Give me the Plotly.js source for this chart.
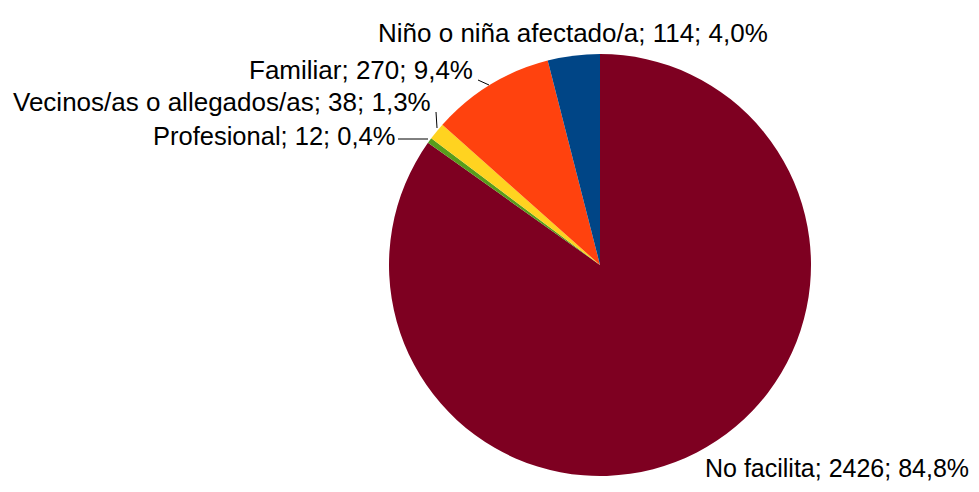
<!DOCTYPE html>
<html>
<head>
<meta charset="utf-8">
<script src="https://cdn.plot.ly/plotly-3.0.1.min.js"></script>
<style>html,body{margin:0;padding:0;background:#fff;}#chart{width:979px;height:492px;}</style>
</head>
<body>
<div id="chart"></div>
<script>
var categories = ["Niño o niña afectado/a", "Familiar", "Vecinos/as o allegados/as", "Profesional", "No facilita"];
var values = [114, 270, 38, 12, 2426];
var colors = ["#004586", "#FF420E", "#FFD320", "#579D1C", "#7E0021"];

var W = 979, H = 492;
var total = values.reduce(function(a, b){ return a + b; }, 0);
function labelText(i){
  var pct = (values[i] / total * 100).toFixed(1).replace('.', ',');
  return categories[i] + "; " + values[i] + "; " + pct + "%";
}

// label placement (pixels) : [x, y, xanchor, font size]
var labelPos = [
  [376, 33, 'left', 26],
  [475, 70, 'right', 26],
  [433, 102, 'right', 26],
  [397, 136, 'right', 25.5],
  [703, 468, 'left', 25]
];
var annotations = labelPos.map(function(p, i){
  return {
    xref: 'paper', yref: 'paper',
    x: p[0] / W, y: 1 - p[1] / H,
    xanchor: p[2], yanchor: 'middle',
    text: labelText(i), showarrow: false,
    font: {family: 'Liberation Sans, Arial, sans-serif', size: p[3], color: '#000'}
  };
});

// leader lines (pixels)
var leaders = [
  [478, 80, 489, 85],
  [436, 112, 437, 128],
  [398, 139, 428, 139]
];
var shapes = leaders.map(function(l){
  return {
    type: 'line', xref: 'paper', yref: 'paper',
    x0: l[0] / W, y0: 1 - l[1] / H, x1: l[2] / W, y1: 1 - l[3] / H,
    line: {color: '#000', width: 1}
  };
});

// slices drawn clockwise from 12 o'clock in reverse order, so the first category
// sits just left of the top, going counterclockwise
var order = [4, 3, 2, 1, 0];
var trace = {
  type: 'pie',
  labels: order.map(function(i){ return categories[i]; }),
  values: order.map(function(i){ return values[i]; }),
  sort: false,
  direction: 'clockwise',
  rotation: 0,
  marker: {colors: order.map(function(i){ return colors[i]; }), line: {width: 0}},
  textinfo: 'none',
  hoverinfo: 'label+value+percent',
  domain: {x: [389 / W, 811 / W], y: [(H - 476) / H, (H - 54) / H]}
};

var layout = {
  width: W, height: H,
  margin: {l: 0, r: 0, t: 0, b: 0},
  paper_bgcolor: '#fff',
  showlegend: false,
  annotations: annotations,
  shapes: shapes
};

Plotly.newPlot('chart', [trace], layout, {displayModeBar: false, staticPlot: true});
</script>
</body>
</html>
